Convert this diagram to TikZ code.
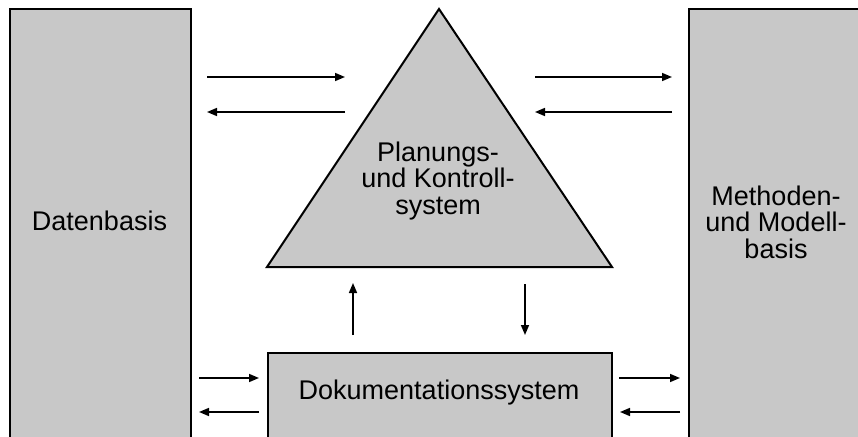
\documentclass[tikz,border=0pt]{standalone}
\usepackage{fontspec}
\setmainfont{Liberation Sans}
\usetikzlibrary{arrows.meta}
\definecolor{boxgray}{RGB}{200,200,200}

\begin{document}
\begin{tikzpicture}[x=1pt,y=-1pt,
    part/.style={draw=black,fill=boxgray,line width=2pt,inner sep=0pt,
                 font=\fontsize{27}{26.5}\selectfont,align=center},
    flow/.style={line width=1.6pt,-{Triangle[length=10pt,width=8pt]}}]
                    \useasboundingbox (0,0) rectangle (858,436);
                    \clip (0,0) rectangle (858,436);
                    \node [part,anchor=north west,minimum width=181pt,minimum height=450pt] (daten) at (9,8) {};
                    \node [part,anchor=north west,minimum width=180pt,minimum height=450pt] (methoden) at (688,8) {};
                    \node [part,anchor=north west,minimum width=344pt,minimum height=100pt] (doku) at (267,352) {};
                    \draw [part] (439,9) -- (612,267) -- (267,267) -- cycle;
                    \node [font=\fontsize{27}{26.5}\selectfont] (datentext) at (99.5,221) {Datenbasis};
                    \node [font=\fontsize{27}{26.5}\selectfont,align=center] (methodentext) at (776,222) {Methoden-\\und Modell-\\basis};
                    \node [font=\fontsize{27}{26.5}\selectfont,align=center] (planung) at (438,181) {Planungs-\\und Kontroll-\\system};
                    \node [font=\fontsize{27}{26.5}\selectfont] (dokutext) at (439,393) {Dokumentationssystem};
                    % arrow ends
                    \coordinate (a1) at (207,77);  \coordinate (a2) at (345,77);
                    \coordinate (a3) at (345,112); \coordinate (a4) at (207,112);
                    \coordinate (b1) at (535,77);  \coordinate (b2) at (672,77);
                    \coordinate (b3) at (672,112); \coordinate (b4) at (535,112);
                    \coordinate (c1) at (353,335); \coordinate (c2) at (353,283);
                    \coordinate (c3) at (525,284); \coordinate (c4) at (525,335);
                    \coordinate (d1) at (199,378); \coordinate (d2) at (259,378);
                    \coordinate (d3) at (259,412); \coordinate (d4) at (199,412);
                    \coordinate (e1) at (619,378); \coordinate (e2) at (680,378);
                    \coordinate (e3) at (680,412); \coordinate (e4) at (620,412);
                    \foreach \s/\t in {a1/a2,a3/a4,b1/b2,b3/b4,c1/c2,c3/c4,d1/d2,d3/d4,e1/e2,e3/e4}
                        \draw [flow] (\s) -- (\t);
                \end{tikzpicture}
\end{document}
